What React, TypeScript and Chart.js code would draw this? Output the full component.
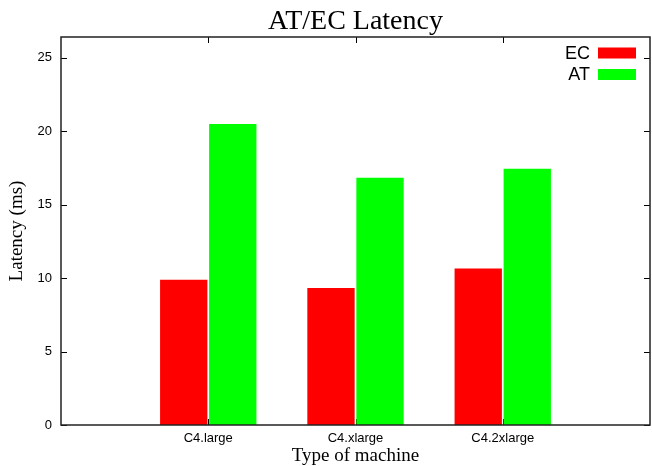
import React, { useEffect, useRef } from 'react';
import { Chart, registerables } from 'chart.js';

Chart.register(...registerables);

const chartTitle = 'AT/EC Latency';
const xTitle = 'Type of machine';
const yTitle = 'Latency (ms)';
const categories = ['C4.large', 'C4.xlarge', 'C4.2xlarge'];
const ecValues = [9.88, 9.33, 10.65];
const atValues = [20.48, 16.83, 17.44];
const seriesNames = ['EC', 'AT'];
const seriesColors = ['#ff0000', '#00ff00'];
const yTicks = [0, 5, 10, 15, 20, 25];
const yMax = 26.4;

const framePlugin = {
  id: 'gnuFrame',
  beforeDatasetsDraw(chart: any) {
    const { ctx, chartArea: a, scales } = chart;
    ctx.save();
    ctx.strokeStyle = '#000';
    ctx.lineWidth = 1;
    const L = 6;
    ctx.beginPath();
    for (const v of yTicks) {
      const y = Math.round(scales.y.getPixelForValue(v)) + 0.5;
      ctx.moveTo(a.left, y);
      ctx.lineTo(a.left + L, y);
      ctx.moveTo(a.right, y);
      ctx.lineTo(a.right - L, y);
    }
    categories.forEach((_c, i) => {
      const x = Math.round(scales.x.getPixelForValue(i + 1)) + 0.5;
      ctx.moveTo(x, a.bottom);
      ctx.lineTo(x, a.bottom - L);
      ctx.moveTo(x, a.top);
      ctx.lineTo(x, a.top + L);
    });
    ctx.stroke();
    ctx.restore();
  },
  afterDatasetsDraw(chart: any) {
    const { ctx, chartArea: a } = chart;
    ctx.save();
    ctx.strokeStyle = '#222';
    ctx.lineWidth = 1.5;
    ctx.strokeRect(a.left, a.top, a.right - a.left, a.bottom - a.top);
    // title centred over the plot area
    ctx.fillStyle = '#000';
    ctx.font = '28px "Liberation Serif", "Times New Roman", serif';
    ctx.textAlign = 'center';
    ctx.textBaseline = 'middle';
    ctx.fillText(chartTitle, (a.left + a.right) / 2, a.top - 15);
    // legend
    const boxRight = a.right - 14;
    const boxLeft = boxRight - 38;
    const textRight = boxLeft - 8;
    ctx.font = '18px "Liberation Sans", Arial, sans-serif';
    ctx.textAlign = 'right';
    ctx.textBaseline = 'middle';
    chart.data.datasets.forEach((ds: any, i: number) => {
      const cy = a.top + 16 + i * 21.5;
      ctx.fillStyle = '#000';
      ctx.fillText(ds.label, textRight, cy + 1);
      ctx.fillStyle = ds.backgroundColor;
      ctx.fillRect(boxLeft, cy - 5.5, boxRight - boxLeft, 11);
    });
    ctx.restore();
  },
};

export default function App() {
  const ref = useRef<HTMLCanvasElement>(null);
  useEffect(() => {
    if (!ref.current) return;
    const labels = ['', ...categories, ''];
    const series = [ecValues, atValues];
    const chart = new Chart(ref.current, {
      type: 'bar',
      data: {
        labels,
        datasets: series.map((vals, i) => ({
          label: seriesNames[i],
          data: [null, ...vals, null],
          backgroundColor: seriesColors[i],
          borderWidth: 0,
          categoryPercentage: 0.666,
          barPercentage: 0.965,
        })),
      },
      options: {
        responsive: false,
        animation: false,
        layout: { padding: { left: 0, right: 2, top: 37, bottom: 0 } },
        plugins: {
          legend: { display: false },
          tooltip: { enabled: false },
          title: { display: false },
        },
        scales: {
          x: {
            type: 'category',
            offset: false,
            afterFit: (s: any) => { s.height = 41; s.paddingLeft = 0; s.paddingRight = 0; },
            grid: { display: false, drawTicks: false },
            border: { display: false },
            ticks: {
              padding: 6,
              autoSkip: false,
              maxRotation: 0,
              color: '#000',
              font: { family: '"Liberation Sans", Arial, sans-serif', size: 13 },
            },
            title: {
              display: true,
              text: xTitle,
              color: '#000',
              font: { family: '"Liberation Serif", "Times New Roman", serif', size: 19 },
              padding: { top: 0, bottom: -1 },
            },
          },
          y: {
            min: 0,
            max: yMax,
            afterFit: (s: any) => { s.width = 61; s.paddingTop = 0; s.paddingBottom = 0; },
            afterBuildTicks: (s: any) => { s.ticks = yTicks.map((v) => ({ value: v })); },
            grid: { display: false, drawTicks: false },
            border: { display: false },
            ticks: {
              stepSize: 5,
              padding: 9,
              color: '#000',
              font: { family: '"Liberation Sans", Arial, sans-serif', size: 13 },
            },
            title: {
              display: true,
              text: yTitle,
              color: '#000',
              font: { family: '"Liberation Serif", "Times New Roman", serif', size: 19 },
              padding: { top: 5.5, bottom: 0 },
            },
          },
        },
      },
      plugins: [framePlugin],
    } as any);
    return () => chart.destroy();
  }, []);
  return (
    <div style={{ position: 'absolute', left: 0, top: 0, width: 652, height: 466, background: '#fff' }}>
      <canvas ref={ref} width={652} height={466} />
    </div>
  );
}
